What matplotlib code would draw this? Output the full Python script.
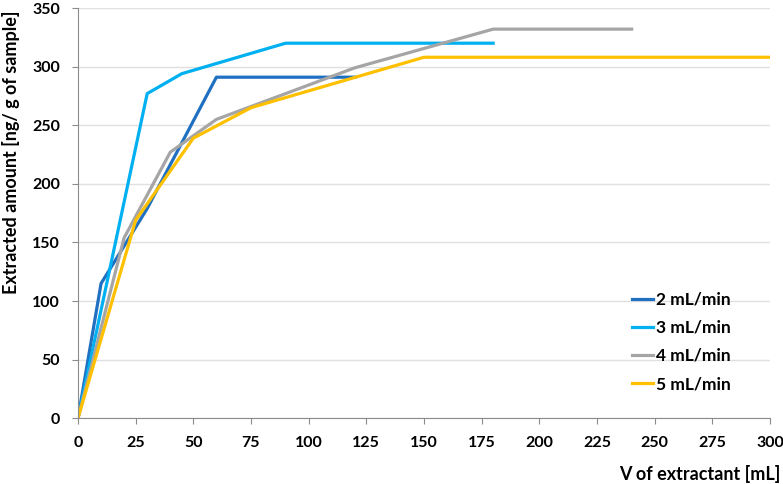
import matplotlib.pyplot as plt

plt.rcParams['font.family'] = ['Lato', 'DejaVu Sans']

x_2 = [0, 10, 30, 60, 120]
y_2 = [0, 115, 179, 291, 291]
x_3 = [0, 30, 45, 90, 180]
y_3 = [0, 277, 294, 320, 320]
x_4 = [0, 20, 40, 60, 75, 120, 180, 240]
y_4 = [0, 154, 227, 255, 266, 299, 332, 332]
x_5 = [0, 25, 50, 75, 150, 300]
y_5 = [0, 169, 239, 265, 308, 308]

labels = ['2 mL/min', '3 mL/min', '4 mL/min', '5 mL/min']
colors = ['#1F70C1', '#00B0F0', '#A5A5A5', '#FFC000']

fig = plt.figure(figsize=(7.83, 4.84), dpi=100)
ax = fig.add_axes([0.0996, 0.1357, 0.8838, 0.8477])

for xs, ys, lab, c in zip([x_2, x_3, x_4, x_5], [y_2, y_3, y_4, y_5], labels, colors):
    ax.plot(xs, ys, color=c, linewidth=2.3, label=lab, solid_joinstyle='round')

ax.set_xlim(0, 300)
ax.set_ylim(0, 350)
ax.set_xticks(range(0, 301, 25))
ax.set_yticks(range(0, 351, 50))
ax.grid(axis='y', color='#E0E0E0', linewidth=1)
ax.set_axisbelow(True)
for s in ['top', 'right']:
    ax.spines[s].set_visible(False)
for s in ['left', 'bottom']:
    ax.spines[s].set_color('#8C8C8C')
ax.tick_params(axis='both', colors='#8C8C8C', labelcolor='black', labelsize=11.5, length=4, pad=9)
for t in ax.get_xticklabels() + ax.get_yticklabels():
    t.set_fontweight('bold')

# axis titles placed like the original (y title sits above centre)
fig.text(780 / 783, 1 - 474 / 484, 'V of extractant [mL]', fontsize=13, fontweight='bold',
         ha='right', va='center')
fig.text(11 / 783, 1 - 152 / 484, 'Extracted amount [ng/ g of sample]', fontsize=13,
         fontweight='bold', rotation=90, ha='center', va='center')

leg = ax.legend(loc='upper left', bbox_to_anchor=(0.778, 0.347), frameon=False,
                handlelength=1.2, handletextpad=0.2, labelspacing=0.70,
                prop={'weight': 'bold', 'size': 12.5})

fig.savefig('out.png', dpi=100)
